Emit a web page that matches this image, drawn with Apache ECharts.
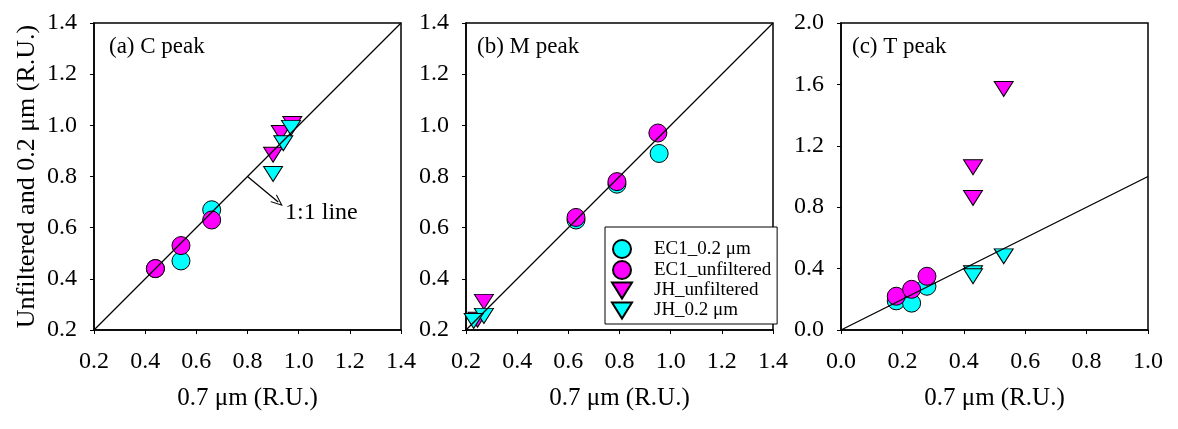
<!DOCTYPE html>
<html><head><meta charset="utf-8">
<script src="https://cdn.jsdelivr.net/npm/echarts@6/dist/echarts.min.js"></script>
<style>html,body{margin:0;padding:0;background:#fff}#c{width:1178px;height:429px}</style>
</head><body><div id="c"></div>
<script>
// ---------- data ----------
const panelTitles = ['(a) C peak', '(b) M peak', '(c) T peak'];
const seriesNames = ['EC1_0.2 μm', 'EC1_unfiltered', 'JH_unfiltered', 'JH_0.2 μm'];
const xTitle = '0.7 μm (R.U.)';
const yTitle = 'Unfiltered and 0.2 μm (R.U.)';
// axis ranges [min, max, interval]
const xRanges = [[0.2, 1.4, 0.2], [0.2, 1.4, 0.2], [0, 1, 0.2]];
const yRanges = [[0.2, 1.4, 0.2], [0.2, 1.4, 0.2], [0, 2, 0.4]];

// (a) C peak
const cEC1_02  = [[0.44, 0.44], [0.54, 0.47], [0.66, 0.67]];
const cEC1_unf = [[0.44, 0.44], [0.54, 0.53], [0.66, 0.63]];
const cJH_unf  = [[0.90, 0.885], [0.93, 0.97], [0.975, 1.005]];
const cJH_02   = [[0.90, 0.81], [0.94, 0.93], [0.97, 0.99]];
// (b) M peak
const mEC1_02  = [[0.63, 0.63], [0.79, 0.77], [0.955, 0.89]];
const mEC1_unf = [[0.63, 0.64], [0.79, 0.78], [0.95, 0.97]];
const mJH_unf  = [[0.27, 0.31], [0.245, 0.24]];
const mJH_02   = [[0.27, 0.255], [0.23, 0.235]];
// (c) T peak
const tEC1_02  = [[0.18, 0.19], [0.23, 0.175], [0.28, 0.285]];
const tEC1_unf = [[0.18, 0.22], [0.23, 0.265], [0.28, 0.35]];
const tJH_unf  = [[0.53, 1.57], [0.43, 1.06], [0.43, 0.86]];
const tJH_02   = [[0.53, 0.48], [0.43, 0.37], [0.43, 0.35]];

// 1:1 lines
const oneToOne = [[[0.2, 0.2], [1.4, 1.4]], [[0.2, 0.2], [1.4, 1.4]], [[0, 0], [1, 1]]];
// annotation in panel (a)
const arrowStart = [0.8, 0.8];
const arrowEnd = [0.92, 0.70];
const arrowLabelAt = [0.945, 0.66];
const arrowLabel = '1:1 line';

// ---------- styling ----------
const FONT = '"Liberation Serif", "Times New Roman", serif';
const CYAN = '#00FFFF', MAGENTA = '#FF00FF';
const TRI = 'path://M0,0L20,0L10,16Z';
const panels = [
  [cEC1_02, cEC1_unf, cJH_unf, cJH_02],
  [mEC1_02, mEC1_unf, mJH_unf, mJH_02],
  [tEC1_02, tEC1_unf, tJH_unf, tJH_02]
];
const symbols = ['circle', 'circle', TRI, TRI];
const sizes = [18, 18, [19, 15], [19, 15]];
const colors = [CYAN, MAGENTA, MAGENTA, CYAN];
const gridLefts = [94, 466, 841];

const grids = [], xAxes = [], yAxes = [], series = [], titles = [];
for (let p = 0; p < 3; p++) {
  grids.push({left: gridLefts[p], top: 23, width: 307, height: 307, show: true,
    borderColor: '#000', borderWidth: 1.5, backgroundColor: 'transparent'});
  const fmt = v => v.toFixed(1);
  xAxes.push({type: 'value', gridIndex: p, min: xRanges[p][0], max: xRanges[p][1], interval: xRanges[p][2],
    name: xTitle, nameLocation: 'middle', nameGap: 56,
    nameTextStyle: {fontFamily: FONT, fontSize: 25, color: '#000'},
    axisLine: {show: true, lineStyle: {color: '#000', width: 1.5}},
    axisTick: {show: true, inside: false, length: 4, lineStyle: {color: '#000', width: 1}},
    axisLabel: {formatter: fmt, margin: 20, fontFamily: FONT, fontSize: 24, color: '#000'},
    splitLine: {show: false}});
  yAxes.push({type: 'value', gridIndex: p, min: yRanges[p][0], max: yRanges[p][1], interval: yRanges[p][2],
    name: p === 0 ? yTitle : '', nameLocation: 'middle', nameGap: 54, nameRotate: 90,
    nameTextStyle: {fontFamily: FONT, fontSize: 26, color: '#000'},
    axisLine: {show: true, lineStyle: {color: '#000', width: 1.5}},
    axisTick: {show: true, inside: false, length: 4, lineStyle: {color: '#000', width: 1}},
    axisLabel: {formatter: fmt, margin: 17, fontFamily: FONT, fontSize: 24, color: '#000'},
    splitLine: {show: false}});
  for (let s = 0; s < 4; s++) {
    series.push({type: 'scatter', name: seriesNames[s], xAxisIndex: p, yAxisIndex: p,
      data: panels[p][s], symbol: symbols[s], symbolSize: sizes[s], z: 2 + s,
      itemStyle: {color: colors[s], borderColor: '#000', borderWidth: 1, opacity: 1},
      emphasis: {disabled: true}});
  }
  const line = {type: 'line', xAxisIndex: p, yAxisIndex: p, data: oneToOne[p], symbol: 'none',
    lineStyle: {color: '#000', width: 1.3}, z: 10, silent: true, animation: false};
  if (p === 0) {
    line.markLine = {silent: true, symbol: ['none', 'path://M0,12L6,0L12,12L10.6,12L6,2.8L1.4,12Z'], symbolSize: [10, 12],
      lineStyle: {color: '#000', width: 1.3, type: 'solid'}, label: {show: false},
      data: [[{coord: arrowStart}, {coord: arrowEnd}]], animation: false};
    line.markPoint = {silent: true, symbol: 'circle', symbolSize: 1, itemStyle: {color: 'rgba(0,0,0,0)'},
      label: {show: true, position: 'right', distance: 0, formatter: arrowLabel, fontFamily: FONT, fontSize: 24, color: '#000'},
      data: [{coord: arrowLabelAt}], animation: false};
  }
  series.push(line);
  titles.push({text: panelTitles[p], left: gridLefts[p] + (p === 0 ? 15 : 11), top: 35, padding: 0,
    textStyle: {fontFamily: FONT, fontSize: 23, fontWeight: 'normal', color: '#000'}});
}

const chart = echarts.init(document.getElementById('c'), null, {renderer: 'canvas'});
chart.setOption({
  animation: false,
  backgroundColor: '#fff',
  title: titles,
  grid: grids,
  xAxis: xAxes,
  yAxis: yAxes,
  legend: {data: seriesNames, orient: 'vertical', left: 605, top: 227, padding: [12, 6, 4, 6],
    itemWidth: 20, itemHeight: 18, itemGap: 1, backgroundColor: '#fff', borderColor: '#000', borderWidth: 1,
    selectedMode: false, z: 20,
    textStyle: {fontFamily: FONT, fontSize: 19, color: '#000', padding: [0, 0, 0, 17]}},
  series: series
});
</script></body></html>
